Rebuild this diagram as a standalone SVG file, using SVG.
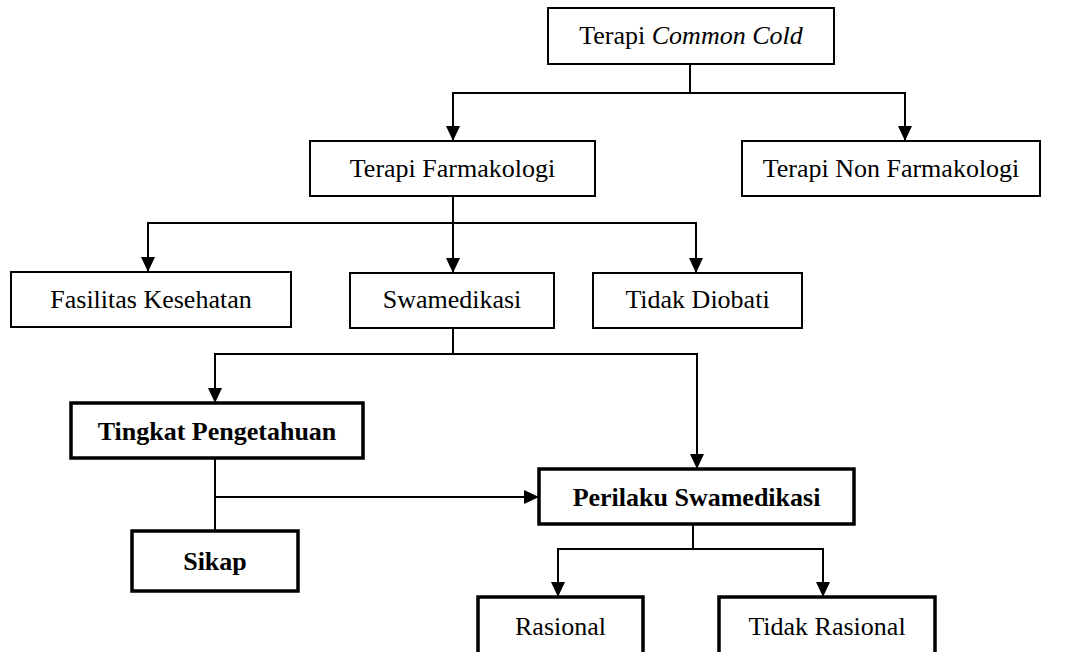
<svg xmlns="http://www.w3.org/2000/svg" width="1068" height="652" viewBox="0 0 1068 652">
<style>
.b{fill:#fff;stroke:#000;stroke-width:2}
.bt{fill:#fff;stroke:#000;stroke-width:3.5}
.t{font-family:"Liberation Serif","Times New Roman",serif;font-size:26px;fill:#000;text-anchor:middle}
.tb{font-weight:bold}
.c{fill:none;stroke:#000;stroke-width:2}
</style>
<defs>
<marker id="ah" markerUnits="userSpaceOnUse" markerWidth="16" markerHeight="16" refX="15" refY="7" orient="auto" viewBox="0 0 16 14">
<path d="M0,0 L15,7 L0,14 Z" fill="#000"/>
</marker>
</defs>
<rect width="1068" height="652" fill="#fff"/>
<g id="connectors">
<path class="c" d="M690,64 V93 M452,93 H906"/>
<path class="c" d="M453,93 V141" marker-end="url(#ah)"/>
<path class="c" d="M905,93 V141" marker-end="url(#ah)"/>
<path class="c" d="M453,196 V223 M147,223 H697"/>
<path class="c" d="M148,223 V272" marker-end="url(#ah)"/>
<path class="c" d="M453,223 V273" marker-end="url(#ah)"/>
<path class="c" d="M696,223 V273" marker-end="url(#ah)"/>
<path class="c" d="M453,328 V354 M214,354 H698"/>
<path class="c" d="M215,354 V403" marker-end="url(#ah)"/>
<path class="c" d="M697,354 V469" marker-end="url(#ah)"/>
<path class="c" d="M215,458 V531"/>
<path class="c" d="M214,497 H539" marker-end="url(#ah)"/>
<path class="c" d="M693,524 V549 M557,549 H824"/>
<path class="c" d="M558,549 V597" marker-end="url(#ah)"/>
<path class="c" d="M823,549 V597" marker-end="url(#ah)"/>
</g>
<g id="n-common-cold"><rect class="b" x="548" y="8" width="286" height="56"/><text class="t" x="691" y="44">Terapi <tspan font-style="italic">Common Cold</tspan></text></g>
<g id="n-farmakologi"><rect class="b" x="310" y="141" width="285" height="55"/><text class="t" x="452.5" y="177">Terapi Farmakologi</text></g>
<g id="n-non-farmakologi"><rect class="b" x="742" y="141" width="298" height="55"/><text class="t" x="891" y="177">Terapi Non Farmakologi</text></g>
<g id="n-fasilitas"><rect class="b" x="11" y="272" width="280" height="55"/><text class="t" x="151" y="308">Fasilitas Kesehatan</text></g>
<g id="n-swamedikasi"><rect class="b" x="350" y="273" width="204" height="55"/><text class="t" x="452" y="308">Swamedikasi</text></g>
<g id="n-tidak-diobati"><rect class="b" x="593" y="273" width="209" height="55"/><text class="t" x="697.5" y="308">Tidak Diobati</text></g>
<g id="n-tingkat"><rect class="bt" x="71" y="403" width="292" height="55"/><text class="t tb" x="217" y="440">Tingkat Pengetahuan</text></g>
<g id="n-perilaku"><rect class="bt" x="539" y="469" width="315" height="55"/><text class="t tb" x="696.5" y="506">Perilaku Swamedikasi</text></g>
<g id="n-sikap"><rect class="bt" x="132" y="531" width="166" height="60"/><text class="t tb" x="215" y="570">Sikap</text></g>
<g id="n-rasional"><rect class="bt" x="478" y="597" width="165" height="62"/><text class="t" x="560.5" y="635">Rasional</text></g>
<g id="n-tidak-rasional"><rect class="bt" x="719" y="597" width="216" height="62"/><text class="t" x="827" y="635">Tidak Rasional</text></g>
</svg>
